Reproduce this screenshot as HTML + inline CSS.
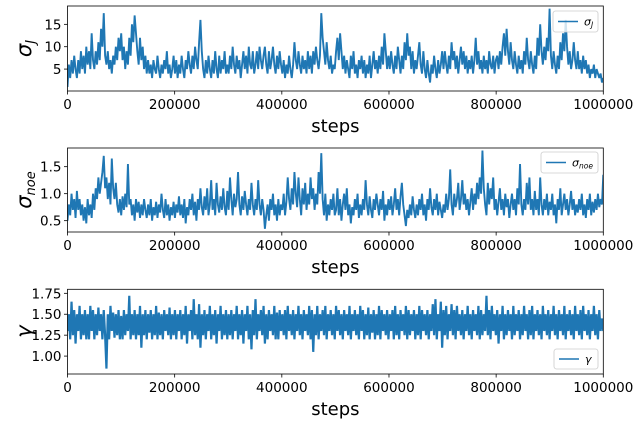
<!DOCTYPE html>
<html><head><meta charset="utf-8"><style>
body{margin:0;background:#fff;}
svg{display:block;font-family:"DejaVu Sans","Liberation Sans",sans-serif;}
</style></head><body>
<svg id="chart" width="640" height="424" xmlns="http://www.w3.org/2000/svg"></svg>
<script>
const steps = [0,200000,400000,600000,800000,1000000];
const xTickLabels = ["0","200000","400000","600000","800000","1000000"];
const sigmaJ = [1,6,3,7,4,8,5,3,7,4,9,5,8,4,10,6,9,5,13,7,
5,9,6,11,7,14,10,17.5,8,6,9,5,7,4,8,6,10,7,12,9,
13,7,10,5,9,6,12,8,15,11,17,13,9,6,12,7,10,5,8,4,
7,4,6,3,7,5,4,8,5,3,6,4,7,5,9,4,6,3,5,8,
4,7,3,6,4,8,5,3,7,5,9,6,4,8,5,10,7,5,11,16,
9,5,3,7,4,8,5,3,7,4,9,5,3,8,4,7,5,9,4,6,
4,8,5,10,6,4,8,5,7,3,6,9,5,8,4,10,6,5,9,4,
6,9,5,10,7,5,8,10,6,4,9,5,7,10,6,4,8,5,9,6,
4,7,3,6,4,8,5,3,6,11,7,5,9,6,4,8,5,7,4,9,
5,8,4,9,6,10,7,5,8,17.5,12,9,6,11,7,5,8,4,6,5,
9,12,7,13,9,5,8,4,7,5,3,8,5,9,4,6,3,7,5,8,
4,7,3,6,4,8,3,6,9,5,7,4,8,5,10,6,13,9,5,8,
5,9,6,4,8,5,10,7,4,8,5,11,7,13,8,10,5,9,4,7,
5,8,11,6,4,9,5,3,7,4,2,6,4,8,5,3,7,4,6,9,
5,9,6,4,8,5,11,7,9,5,8,4,7,10,6,9,5,8,4,7,
5,8,4,7,12,6,9,5,7,4,8,5,7,4,9,6,5,8,4,7,
8,5,9,6,10,13,8,14,9,6,11,7,5,9,6,4,8,5,7,4,
9,6,12,7,5,9,6,4,8,5,12,8,15,9,6,10,7,12,9,18.5,
8,5,9,6,4,8,5,11,7,13,9,16,10,6,9,5,7,11,7,5,
9,5,7,4,8,5,7,4,6,3,5,4,6,3,5,4,3,4,2,3];
const sigmaNoe = [0.5,0.8,0.6,1.0,0.7,0.9,0.55,1.05,0.7,0.9,0.6,0.8,0.5,0.75,0.45,0.9,0.6,0.8,0.55,1.0,
0.7,1.1,0.9,1.3,1.0,1.2,1.4,1.7,1.1,1.3,0.9,1.2,0.8,1.65,1.1,0.9,1.2,0.8,0.65,0.9,
0.6,0.95,0.7,1.0,0.75,1.55,0.8,0.9,0.6,0.8,0.5,0.9,0.65,0.85,0.55,0.8,0.6,0.9,0.7,0.55,
0.8,0.6,0.9,0.5,0.75,0.6,0.85,0.55,0.8,0.65,1.0,0.7,0.55,0.9,0.6,0.8,0.5,0.75,0.6,0.85,
0.55,0.8,0.65,0.95,0.6,0.8,0.55,0.9,0.45,0.75,0.6,0.9,0.7,1.0,0.6,0.85,0.5,0.9,0.7,1.1,
0.75,0.6,0.95,0.7,1.1,0.6,0.8,1.25,0.7,0.9,0.6,1.2,0.8,0.65,0.95,0.7,1.1,0.75,0.6,1.05,
0.7,1.3,0.9,0.6,1.0,0.75,0.9,1.4,0.8,0.6,0.95,0.7,1.05,0.8,0.6,0.9,0.7,1.2,0.8,0.6,
0.9,0.7,1.25,0.8,0.6,0.9,0.7,0.35,0.6,0.8,0.5,0.9,0.7,1.0,0.6,0.8,0.5,0.9,0.6,0.8,
0.7,1.0,0.6,0.85,1.3,0.9,0.7,1.1,0.8,1.4,1.0,0.75,1.3,0.9,0.6,1.1,0.8,1.2,0.7,1.0,
0.8,1.3,0.9,1.1,0.7,1.0,0.8,1.4,1.0,1.75,0.9,0.6,1.0,0.5,0.8,0.6,0.9,0.7,1.0,0.6,
0.7,1.1,0.6,0.9,0.5,0.8,1.0,0.7,1.1,0.6,0.8,0.45,0.75,0.6,0.9,0.7,1.0,0.55,0.8,0.6,
0.9,0.7,1.25,0.8,0.6,0.95,0.7,0.55,0.9,0.7,1.0,0.8,0.6,0.9,0.7,1.05,0.5,0.8,0.6,0.9,
0.7,0.95,0.6,0.8,1.1,0.7,0.9,0.6,0.95,1.2,0.8,0.6,0.4,0.7,0.55,0.8,0.6,0.95,0.7,0.55,
0.8,0.6,0.9,0.7,1.0,0.6,0.8,0.5,0.9,0.7,1.1,0.75,0.6,0.9,0.7,1.0,0.6,0.85,0.7,0.55,
0.8,0.65,1.0,0.7,0.9,1.45,0.8,0.6,1.0,0.75,0.9,1.2,0.7,0.9,1.25,0.8,1.0,0.7,0.9,0.6,
0.85,1.1,0.7,1.0,0.8,1.2,0.9,1.3,1.0,1.8,1.1,0.8,0.6,1.2,0.8,1.1,0.9,1.3,0.7,0.9,
0.6,0.85,1.1,0.7,0.9,0.6,1.0,0.75,0.9,0.55,0.8,1.0,0.7,0.9,0.6,1.1,0.8,1.55,0.8,0.6,
0.9,0.7,1.2,0.8,1.3,0.7,0.9,0.6,1.05,0.7,0.9,0.6,1.3,0.8,0.6,0.9,0.7,1.0,0.6,0.85,
0.7,1.0,0.6,0.8,0.45,0.9,0.7,1.1,0.6,0.8,1.0,0.7,0.9,0.6,0.8,1.05,0.7,0.9,0.6,0.8,
0.65,0.9,0.7,1.0,0.6,0.8,0.55,0.9,0.7,1.0,0.6,0.85,0.65,0.9,0.7,1.0,0.75,0.9,0.8,1.35];
const gamma = [1.3,1.5,1.2,1.65,1.25,1.55,1.15,1.5,1.3,1.6,1.2,1.5,1.25,1.55,1.2,1.5,1.2,1.6,1.3,1.55,
1.2,1.5,1.25,1.58,1.3,1.5,1.2,1.55,1.25,0.85,1.5,1.2,1.6,1.3,1.52,1.22,1.5,1.25,1.55,1.2,
1.48,1.2,1.55,1.25,1.5,1.3,1.72,1.2,1.5,1.25,1.55,1.2,1.5,1.25,1.6,1.1,1.5,1.25,1.55,1.2,
1.5,1.28,1.55,1.2,1.5,1.25,1.6,1.2,1.52,1.25,1.5,1.2,1.55,1.3,1.5,1.25,1.58,1.2,1.5,1.25,
1.55,1.2,1.5,1.3,1.55,1.2,1.5,1.25,1.6,1.15,1.5,1.3,1.55,1.2,1.68,1.25,1.5,1.2,1.62,1.1,
1.5,1.25,1.55,1.2,1.5,1.3,1.6,1.2,1.5,1.25,1.55,1.15,1.5,1.3,1.6,1.2,1.5,1.25,1.55,1.2,
1.5,1.25,1.55,1.2,1.5,1.3,1.6,1.2,1.5,1.25,1.55,1.15,1.5,1.3,1.6,1.2,1.5,1.08,1.55,1.25,
1.68,1.2,1.5,1.3,1.55,1.25,1.6,1.15,1.5,1.2,1.55,1.3,1.5,1.25,1.6,1.2,1.52,1.2,1.55,1.3,
1.5,1.25,1.55,1.2,1.6,1.3,1.5,1.25,1.55,1.2,1.5,1.3,1.6,1.25,1.5,1.2,1.55,1.3,1.5,1.25,
1.6,1.2,1.55,1.05,1.5,1.25,1.6,1.2,1.5,1.3,1.55,1.25,1.6,1.2,1.5,1.3,1.55,1.25,1.5,1.2,
1.6,1.3,1.55,1.25,1.5,1.2,1.55,1.3,1.5,1.25,1.6,1.2,1.5,1.3,1.55,1.25,1.5,1.2,1.6,1.3,
1.55,1.2,1.5,1.25,1.58,1.2,1.5,1.28,1.55,1.2,1.5,1.25,1.6,1.2,1.55,1.3,1.5,1.25,1.55,1.2,
1.5,1.3,1.55,1.2,1.6,1.25,1.5,1.2,1.55,1.3,1.5,1.25,1.6,1.2,1.55,1.25,1.5,1.3,1.55,1.2,
1.5,1.25,1.6,1.2,1.55,1.3,1.5,1.25,1.55,1.2,1.5,1.3,1.62,1.25,1.68,1.2,1.5,1.3,1.65,1.1,
1.55,1.25,1.6,1.2,1.5,1.3,1.62,1.25,1.55,1.2,1.6,1.3,1.5,1.25,1.55,1.2,1.5,1.3,1.6,1.25,
1.5,1.2,1.55,1.3,1.5,1.25,1.6,1.2,1.55,1.25,1.5,1.3,1.72,1.25,1.55,1.2,1.6,1.3,1.5,1.25,
1.55,1.15,1.5,1.3,1.6,1.2,1.5,1.25,1.55,1.3,1.5,1.2,1.6,1.25,1.5,1.3,1.55,1.2,1.5,1.25,
1.6,1.3,1.5,1.2,1.55,1.25,1.6,1.2,1.5,1.3,1.55,1.25,1.5,1.2,1.6,1.3,1.5,1.25,1.55,1.2,
1.5,1.3,1.6,1.25,1.5,1.2,1.55,1.3,1.5,1.25,1.6,1.2,1.5,1.3,1.55,1.25,1.5,1.2,1.6,1.3,
1.5,1.25,1.55,1.2,1.6,1.3,1.5,1.25,1.55,1.2,1.5,1.3,1.6,1.25,1.5,1.2,1.55,1.3,1.45,1.3];
const sigmaJTicks = [5,10,15];
const sigmaNoeTicks = [0.5,1.0,1.5];
const gammaTicks = [1.00,1.25,1.50,1.75];

const NS="http://www.w3.org/2000/svg";
const svg=document.getElementById('chart');
const L=67.5,R=603.3;
function mk(tag,attrs,parent){const e=document.createElementNS(NS,tag);for(const k in attrs)e.setAttribute(k,attrs[k]);(parent||svg).appendChild(e);return e;}
const xs=v=>L+(v/1000000)*(R-L);

const panels=[
 {name:'sigma-j',data:sigmaJ,ticks:sigmaJTicks,top:6,bot:91,ymin:0.1,ymax:19.1,fmt:v=>String(v),label:'σ',sub:'J',legend:[553,11,45,21],legSub:'J',sw:1.9},
 {name:'sigma-noe',data:sigmaNoe,ticks:sigmaNoeTicks,top:148,bot:232,ymin:0.29,ymax:1.846,fmt:v=>v.toFixed(1),label:'σ',sub:'noe',legend:[541,152,57,21],legSub:'noe',sw:1.9},
 {name:'gamma',data:gamma,ticks:gammaTicks,top:289.3,bot:374,ymin:0.786,ymax:1.798,fmt:v=>v.toFixed(2),label:'γ',sub:'',legend:[554,349,44,20],legSub:'',sw:2.2}
];
panels.forEach((p,pi)=>{
  const g=mk('g',{});
  
  
  const ys=v=>p.bot-(v-p.ymin)/(p.ymax-p.ymin)*(p.bot-p.top);
  const n=p.data.length;
  let d='';
  p.data.forEach((v,i)=>{d+=(i?'L':'M')+xs(i*1000000/(n-1)).toFixed(2)+','+ys(v).toFixed(2);});
  const clip=mk('clipPath',{id:'c'+pi},g);
  mk('rect',{x:L,y:p.top,width:R-L,height:p.bot-p.top},clip);
  const line=mk('path',{d:d,fill:'none',stroke:'#1f77b4','stroke-width':p.sw,'stroke-linejoin':'bevel','clip-path':'url(#c'+pi+')'},g);
  
  
  const frame=mk('rect',{x:L,y:p.top,width:R-L,height:p.bot-p.top,fill:'none',stroke:'#000','stroke-width':0.8},g);
  
  
  p.ticks.forEach(t=>{
    const y=ys(t);
    mk('line',{x1:L-3.5,x2:L,y1:y,y2:y,stroke:'#000','stroke-width':0.8},g);
    const tx=mk('text',{x:L-6,y:y+5,'text-anchor':'end','font-size':13.5,fill:'#000'},g);
    tx.textContent=p.fmt(t);
    
    
  });
  steps.forEach((s,i)=>{
    const x=xs(s);
    mk('line',{x1:x,x2:x,y1:p.bot,y2:p.bot+3.5,stroke:'#000','stroke-width':0.8},g);
    const tx=mk('text',{x:x,y:p.bot+18,'text-anchor':'middle','font-size':13.5,fill:'#000'},g);
    tx.textContent=xTickLabels[i];
    
    
  });
  const xl=mk('text',{x:(L+R)/2,y:p.bot+41,'text-anchor':'middle','font-size':18,fill:'#000'},g);
  xl.textContent='steps';
  
  
  const cy=(p.top+p.bot)/2;
  const yl=mk('text',{x:0,y:0,'text-anchor':'middle','font-size':21,'font-style':'italic',fill:'#000',transform:'translate(31,'+cy+') rotate(-90)'},g);
  yl.textContent=p.label;
  if(p.sub){const ts=mk('tspan',{'font-size':13,dy:4},yl);ts.textContent=p.sub;}
  
  
  const [lx,ly,lw,lh]=p.legend;
  const lg=mk('g',{},g);
  
  
  mk('rect',{x:lx,y:ly,width:lw,height:lh,rx:2.5,fill:'#fff','fill-opacity':0.8,stroke:'#ccc','stroke-width':0.8},lg);
  mk('line',{x1:lx+5,x2:lx+25,y1:ly+lh/2,y2:ly+lh/2,stroke:'#1f77b4','stroke-width':1.5},lg);
  const lt=mk('text',{x:lx+31,y:ly+lh/2+4,'font-size':11,'font-style':'italic',fill:'#000'},lg);
  lt.textContent=p.label;
  if(p.legSub){const ts=mk('tspan',{'font-size':7.5,dy:2},lt);ts.textContent=p.legSub;}
});
</script>
</body></html>
